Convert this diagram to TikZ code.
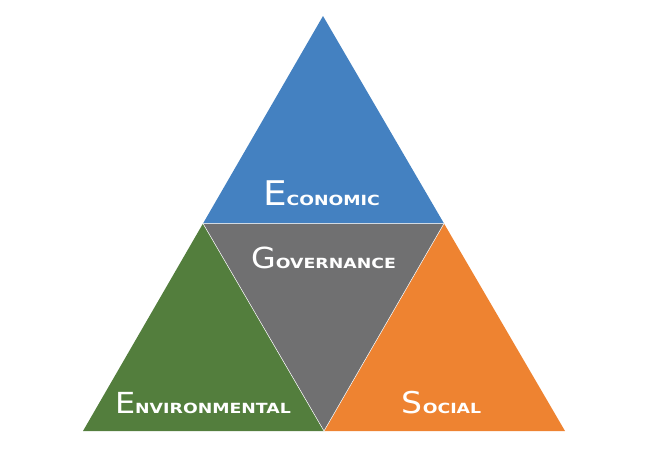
\documentclass[tikz,border=0pt]{standalone}
\usepackage{fontspec}
\newfontfamily\lblbigfont[FakeStretch=1.1]{DejaVu Sans}
\newfontfamily\lblsmallfont[FakeStretch=1.24]{DejaVu Sans Bold}
\definecolor{econ}{HTML}{4481C1}
\definecolor{envi}{HTML}{537E3D}
\definecolor{gove}{HTML}{707071}
\definecolor{soci}{HTML}{EE8331}
\newcommand{\sclabel}[3]{{\lblbigfont\fontsize{#3}{#3}\selectfont #1}{\lblsmallfont\fontsize{14}{14}\selectfont #2}}
\tikzset{
  lbl/.style={text=white, anchor=base, inner sep=0pt}
}
\begin{document}
\begin{tikzpicture}[x=1pt,y=-1pt]
\useasboundingbox (0,0) rectangle (650,459);
\coordinate (top) at (323,16);
\coordinate (bl) at (83,431);
\coordinate (br) at (565,431);
\coordinate (ml) at (203,223.5);
\coordinate (mr) at (444,223.5);
\coordinate (mb) at (324,431);
\fill[econ] (top) -- (mr) -- (ml) -- cycle;
\fill[envi] (ml) -- (mb) -- (bl) -- cycle;
\fill[soci] (mr) -- (br) -- (mb) -- cycle;
\filldraw[gove, draw=white, line width=0.5pt] (ml) -- (mr) -- (mb) -- cycle;
\node[lbl] (economic) at (321.5,205) {\sclabel{E}{CONOMIC}{34}};
\node[lbl] (governance) at (323.5,268) {\sclabel{G}{OVERNANCE}{29}};
\node[lbl] (environmental) at (203,413) {\sclabel{E}{NVIRONMENTAL}{29}};
\node[lbl] (social) at (441.5,413) {\sclabel{S}{OCIAL}{30}};
\end{tikzpicture}
\end{document}
